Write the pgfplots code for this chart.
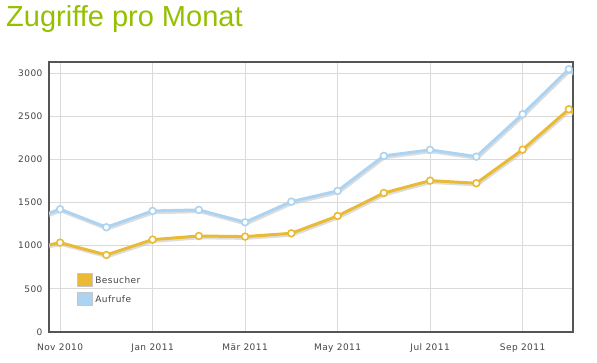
\documentclass[border=0pt]{standalone}
\usepackage{pgfplots}
\pgfplotsset{compat=1.18}
\usepackage{fontspec}
\setmainfont{DejaVu Sans}
\newfontfamily\tickfont[LetterSpace=5]{DejaVu Sans}
\newfontfamily\titlefont{Liberation Sans}
\definecolor{besucher}{RGB}{234,186,52}
\definecolor{aufrufe}{RGB}{172,212,242}
\definecolor{titlegreen}{RGB}{148,192,0}
\definecolor{framegray}{RGB}{85,85,85}
\definecolor{gridgray}{RGB}{218,218,218}
\definecolor{ticktext}{RGB}{68,68,68}
\begin{document}
\begin{tikzpicture}
\path[use as bounding box] (0pt,0pt) rectangle (597pt,362pt);
\node[anchor=base west, inner sep=0pt, text=titlegreen, font=\titlefont\fontsize{29}{30}\selectfont] at (6pt,335pt) {Zugriffe pro Monat};
\begin{axis}[
  at={(49pt,30pt)}, anchor=south west, scale only axis,
  width=524pt, height=270pt,
  xmin=-0.24, xmax=11.09, ymin=0, ymax=3127,
  xtick={0,2,4,6,8,10},
  xticklabels={Nov 2010,Jan 2011,Mär 2011,May 2011,Jul 2011,Sep 2011},
  ytick={0,500,1000,1500,2000,2500,3000},
  major tick length=0pt,
  grid=major,
  major grid style={draw=gridgray, line width=0.9pt},
  axis line style={draw=framegray, line width=2.6pt},
  tick label style={font=\tickfont\fontsize{9}{10}\selectfont, text=ticktext},
  /pgf/number format/assume math mode=true,
  /pgf/number format/1000 sep={},
  yticklabel style={xshift=-3pt},
  xticklabel style={yshift=-8pt},
  clip=true,
  legend style={at={(0.048,0.225)}, anchor=north west, draw=none, fill=none,
    font=\tickfont\fontsize{9}{10}\selectfont, text=ticktext, row sep=5pt,
    legend cell align=left},
  legend image code/.code={\draw[#1, draw=gray!45, line width=0.9pt] (0pt,-6pt) rectangle (15pt,7pt);},
]
% shadows
\addplot[forget plot, black!22, line width=3pt, opacity=0.6, yshift=-1.8pt, xshift=1pt] coordinates {
(-1,1230) (0,1422) (1,1213) (2,1402) (3,1414) (4,1271) (5,1510) (6,1634) (7,2040) (8,2109) (9,2031) (10,2522) (11,3044) (12,2600)};
\addplot[forget plot, black!22, line width=3pt, opacity=0.6, yshift=-1.8pt, xshift=1pt] coordinates {
(-1,925) (0,1035) (1,892) (2,1070) (3,1112) (4,1105) (5,1143) (6,1344) (7,1610) (8,1753) (9,1723) (10,2112) (11,2580) (12,2200)};
% series
\addplot[forget plot, aufrufe, line width=3pt, mark=*, mark size=3.4pt,
  mark options={fill=white, draw=aufrufe, line width=1.6pt}] coordinates {
(-1,1230) (0,1422) (1,1213) (2,1402) (3,1414) (4,1271) (5,1510) (6,1634) (7,2040) (8,2109) (9,2031) (10,2522) (11,3044) (12,2600)};
\addplot[forget plot, besucher, line width=3pt, mark=*, mark size=3.4pt,
  mark options={fill=white, draw=besucher, line width=1.6pt}] coordinates {
(-1,925) (0,1035) (1,892) (2,1070) (3,1112) (4,1105) (5,1143) (6,1344) (7,1610) (8,1753) (9,1723) (10,2112) (11,2580) (12,2200)};
\addlegendimage{fill=besucher}
\addlegendentry{Besucher}
\addlegendimage{fill=aufrufe}
\addlegendentry{Aufrufe}
\end{axis}
\end{tikzpicture}
\end{document}
